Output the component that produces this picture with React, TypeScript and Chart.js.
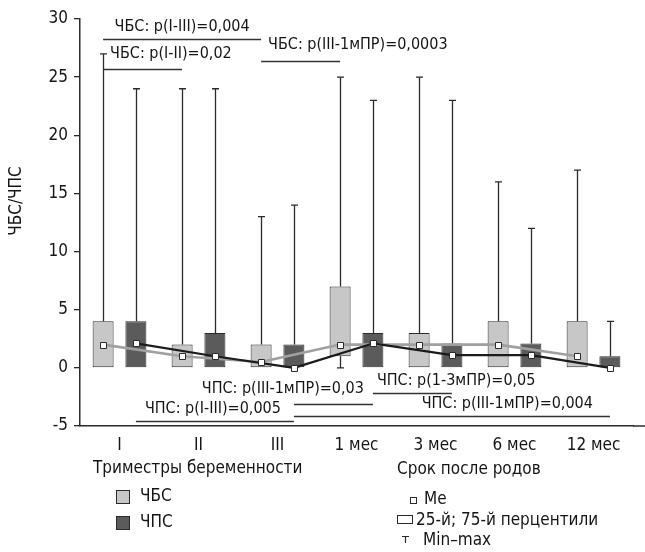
import React, { useEffect, useRef } from 'react';
import { Chart, registerables } from 'chart.js';

Chart.register(...registerables);

const FONT = "'DejaVu Sans Condensed', 'DejaVu Sans', sans-serif";

// ---- data ----
const categories = ['I', 'II', 'III', '1 мес', '3 мес', '6 мес', '12 мес'];
const yMin = -5;
const yMax = 30;
const yStep = 5;

const seriesNames = ['ЧБС', 'ЧПС'];

const chbsMin = [0, 0, 0, 0, 0, 0, 0];
const chbsQ1 = [0, 0, 0, 1, 0, 0, 0];
const chbsMedian = [2, 1, 0.5, 2, 2, 2, 1];
const chbsQ3 = [4, 2, 2, 7, 3, 4, 4];
const chbsMax = [27, 24, 13, 25, 25, 16, 17];

const chpsMin = [0, 0, 0, 0, 0, 0, 0];
const chpsQ1 = [0, 0, 0, 0, 0, 0, 0];
const chpsMedian = [2.1, 1, 0, 2.1, 1.1, 1.1, 0];
const chpsQ3 = [4, 3, 2, 3, 2.1, 2.1, 1];
const chpsMax = [24, 24, 14, 23, 23, 12, 4];

// significance brackets: series index, from category, to category, level (y units), label
const pSeries = [0, 0, 0, 1, 1, 1, 1];
const pFrom = [0, 0, 2, 2, 0, 3, 2];
const pTo = [2, 1, 3, 3, 2, 4, 6];
const pLevel = [28.3, 25.66, 26.35, -3.12, -4.58, -2.17, -4.15];
const pLabels = [
  'ЧБС: p(I-III)=0,004',
  'ЧБС: p(I-II)=0,02',
  'ЧБС: p(III-1мПР)=0,0003',
  'ЧПС: p(III-1мПР)=0,03',
  'ЧПС: p(I-III)=0,005',
  'ЧПС: p(1-3мПР)=0,05',
  'ЧПС: p(III-1мПР)=0,004',
];

const yTitle = 'ЧБС/ЧПС';
const groupTitles = ['Триместры беременности', 'Срок после родов'];
const legendStats = ['Me', '25-й; 75-й перцентили', 'Min–max'];

// ---- styles (layout only) ----
const pAlign: Array<'center' | 'left' | 'right'> = ['center', 'left', 'left', 'right', 'left', 'left', 'right'];
const pDx = [0, 7, 7, -9, 9, 4, -17];
const pDy = [-13, -16, -17, -16, -13, -13, -13];

const fills = ['#c7c7c7', '#5b5b5b'];
const medianColors = ['#a0a0a0', '#1b1b1b'];
const medianWidths = [2.6, 2.2];
const INK = '#2b2b2b';
const TEXT = '#151515';

export default function App() {
  const ref = useRef<HTMLCanvasElement>(null);

  useEffect(() => {
    const canvas = ref.current;
    if (!canvas) return;

    const stats = [
      { min: chbsMin, q1: chbsQ1, med: chbsMedian, q3: chbsQ3, max: chbsMax },
      { min: chpsMin, q1: chpsQ1, med: chpsMedian, q3: chpsQ3, max: chpsMax },
    ];

    const boxPlugin = {
      id: 'boxExtras',
      beforeDatasetsDraw(chart: any) {
        const ctx = chart.ctx;
        const ys = chart.scales.y;
        ctx.save();
        ctx.strokeStyle = INK;
        ctx.lineWidth = 1.3;
        stats.forEach((s, di) => {
          const meta = chart.getDatasetMeta(di);
          meta.data.forEach((bar: any, i: number) => {
            const x = Math.round(bar.x) + 0.5;
            const pMax = ys.getPixelForValue(s.max[i]);
            const pQ3 = ys.getPixelForValue(s.q3[i]);
            ctx.beginPath();
            ctx.moveTo(x, pQ3);
            ctx.lineTo(x, pMax);
            ctx.moveTo(x - 3.5, pMax);
            ctx.lineTo(x + 3.5, pMax);
            ctx.stroke();
            if (s.min[i] < s.q1[i]) {
              const pMin = ys.getPixelForValue(s.min[i]);
              const pQ1 = ys.getPixelForValue(s.q1[i]);
              ctx.beginPath();
              ctx.moveTo(x, pQ1);
              ctx.lineTo(x, pMin);
              ctx.moveTo(x - 3.5, pMin);
              ctx.lineTo(x + 3.5, pMin);
              ctx.stroke();
            }
          });
        });
        ctx.restore();
      },
      afterDatasetsDraw(chart: any) {
        const ctx = chart.ctx;
        const ys = chart.scales.y;
        ctx.save();
        stats.forEach((s, di) => {
          const meta = chart.getDatasetMeta(di);
          ctx.strokeStyle = medianColors[di];
          ctx.lineWidth = medianWidths[di];
          ctx.lineJoin = 'round';
          ctx.beginPath();
          meta.data.forEach((bar: any, i: number) => {
            const y = ys.getPixelForValue(s.med[i]);
            if (i === 0) ctx.moveTo(bar.x, y);
            else ctx.lineTo(bar.x, y);
          });
          ctx.stroke();
        });
        stats.forEach((s, di) => {
          const meta = chart.getDatasetMeta(di);
          meta.data.forEach((bar: any, i: number) => {
            const y = ys.getPixelForValue(s.med[i]);
            ctx.fillStyle = '#ffffff';
            ctx.strokeStyle = INK;
            ctx.lineWidth = 1;
            const x0 = Math.round(bar.x - 3) + 0.5;
            const y0 = Math.round(y - 3) + 0.5;
            ctx.fillRect(x0, y0, 6, 6);
            ctx.strokeRect(x0, y0, 6, 6);
          });
        });
        ctx.restore();
      },
      afterDraw(chart: any) {
        const ctx = chart.ctx;
        const ys = chart.scales.y;
        const area = chart.chartArea;
        ctx.save();
        // extend x axis line
        ctx.strokeStyle = INK;
        ctx.lineWidth = 1.5;
        ctx.beginPath();
        ctx.moveTo(area.right, area.bottom);
        ctx.lineTo(645, area.bottom);
        ctx.stroke();

        // significance brackets
        pLabels.forEach((label, k) => {
          const meta = chart.getDatasetMeta(pSeries[k]);
          const x1 = meta.data[pFrom[k]].x;
          const x2 = meta.data[pTo[k]].x;
          const y = Math.round(ys.getPixelForValue(pLevel[k])) + 0.5;
          ctx.strokeStyle = '#333333';
          ctx.lineWidth = 1.3;
          ctx.beginPath();
          ctx.moveTo(x1, y);
          ctx.lineTo(x2, y);
          ctx.stroke();
          ctx.fillStyle = TEXT;
          ctx.font = `16px ${FONT}`;
          ctx.textBaseline = 'middle';
          ctx.textAlign = pAlign[k];
          const tx = pAlign[k] === 'center' ? (x1 + x2) / 2 + pDx[k] : pAlign[k] === 'left' ? x1 + pDx[k] : x2 + pDx[k];
          ctx.fillText(label, tx, y + pDy[k]);
        });

        // y axis title
        ctx.save();
        ctx.translate(17, 201);
        ctx.rotate(-Math.PI / 2);
        ctx.font = `17px ${FONT}`;
        ctx.fillStyle = TEXT;
        ctx.textAlign = 'center';
        ctx.textBaseline = 'middle';
        ctx.fillText(yTitle, 0, 0);
        ctx.restore();

        // group titles
        ctx.font = `17px ${FONT}`;
        ctx.fillStyle = TEXT;
        ctx.textAlign = 'left';
        ctx.textBaseline = 'middle';
        ctx.fillText(groupTitles[0], 93, 469);
        ctx.fillText(groupTitles[1], 397, 470);

        // legend: series
        const legY = [497, 523];
        seriesNames.forEach((name, i) => {
          ctx.fillStyle = fills[i];
          ctx.fillRect(116.5, legY[i] - 6.5, 13, 13);
          ctx.strokeStyle = INK;
          ctx.lineWidth = 1;
          ctx.strokeRect(116.5, legY[i] - 6.5, 13, 13);
          ctx.fillStyle = TEXT;
          ctx.fillText(name, 140, legY[i]);
        });

        // legend: statistics
        ctx.fillStyle = '#ffffff';
        ctx.strokeStyle = INK;
        ctx.lineWidth = 1;
        ctx.fillRect(410.5, 497.5, 6, 6);
        ctx.strokeRect(410.5, 497.5, 6, 6);
        ctx.strokeRect(397.5, 515.5, 15, 8);
        ctx.lineWidth = 1.2;
        ctx.beginPath();
        ctx.moveTo(402, 536.5);
        ctx.lineTo(409, 536.5);
        ctx.moveTo(405.5, 536.5);
        ctx.lineTo(405.5, 543);
        ctx.stroke();
        ctx.fillStyle = TEXT;
        ctx.fillText(legendStats[0], 424, 500);
        ctx.fillText(legendStats[1], 416, 521);
        ctx.fillText(legendStats[2], 423, 541);
        ctx.restore();
      },
    };

    const chart = new Chart(canvas, {
      type: 'bar',
      data: {
        labels: categories,
        datasets: stats.map((s, di) => ({
          label: seriesNames[di],
          data: categories.map((_, i) => [s.q1[i], s.q3[i]]),
          backgroundColor: fills[di],
          borderColor: INK,
          borderWidth: 1,
          borderSkipped: false,
          categoryPercentage: 0.83,
          barPercentage: 0.64,
        })),
      },
      options: {
        responsive: false,
        animation: false,
        layout: { padding: { top: 19, right: 12, left: 0, bottom: 0 } },
        plugins: { legend: { display: false }, tooltip: { enabled: false } },
        scales: {
          x: {
            type: 'category',
            grid: { display: false, drawTicks: false },
            border: { display: true, color: INK, width: 1.5 },
            ticks: {
              font: { family: FONT, size: 17 },
              color: TEXT,
              padding: 9,
              maxRotation: 0,
              autoSkip: false,
            },
            afterFit(scale: any) {
              scale.height = 126;
            },
          },
          y: {
            min: yMin,
            max: yMax,
            grid: { display: true, drawOnChartArea: false, drawTicks: true, tickLength: 6, color: INK, lineWidth: 1.3 },
            border: { display: true, color: INK, width: 1.5 },
            ticks: {
              stepSize: yStep,
              font: { family: FONT, size: 17 },
              color: TEXT,
              padding: 6,
            },
            afterFit(scale: any) {
              scale.width = 80;
            },
          },
        },
      },
      plugins: [boxPlugin],
    } as any);

    return () => chart.destroy();
  }, []);

  return (
    <div style={{ position: 'absolute', left: 0, top: 0, width: 645, height: 552, background: '#fff' }}>
      <canvas ref={ref} width={645} height={552} style={{ width: 645, height: 552, display: 'block' }} />
    </div>
  );
}
